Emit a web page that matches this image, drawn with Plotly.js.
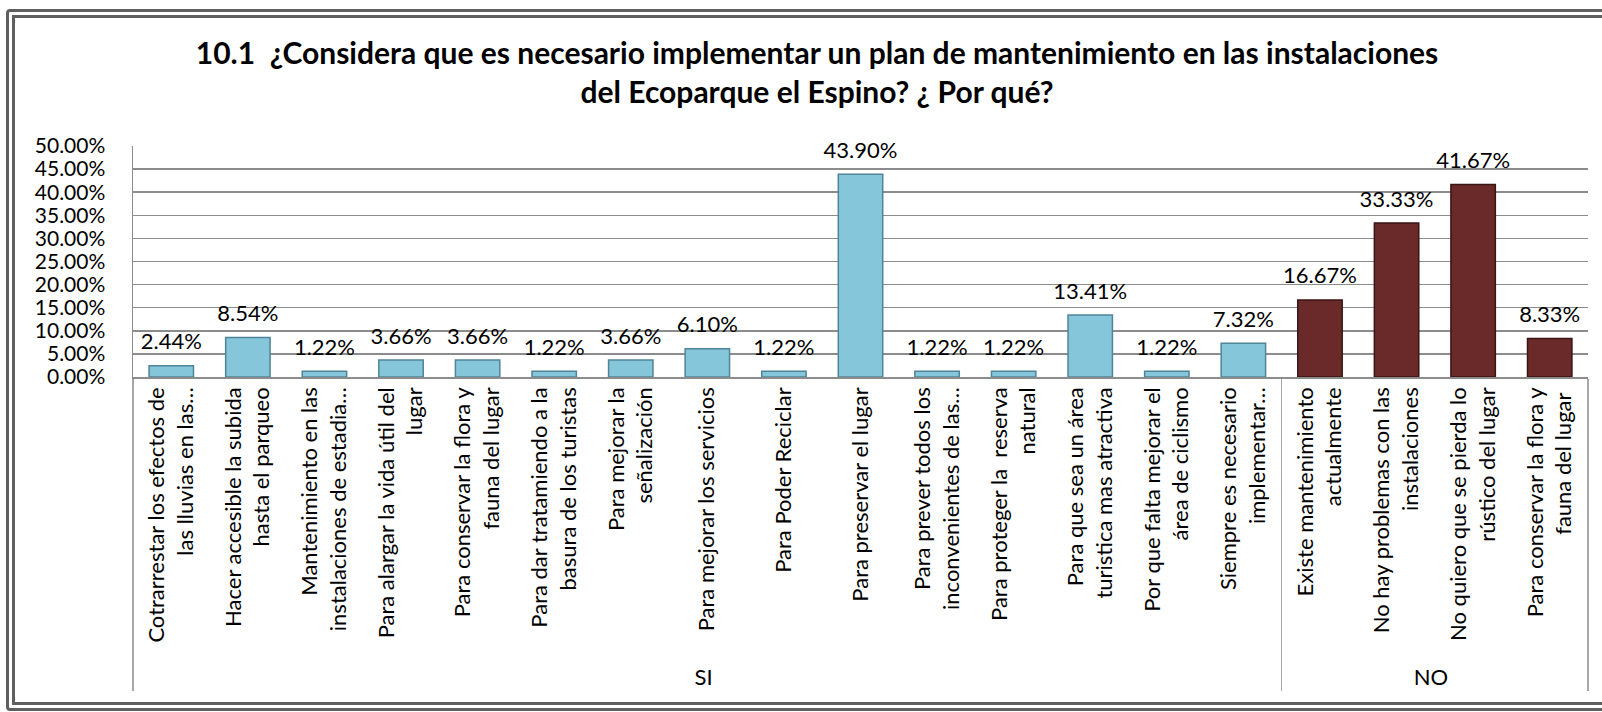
<!DOCTYPE html>
<html>
<head>
<meta charset="utf-8">
<script src="https://cdn.plot.ly/plotly-3.0.1.min.js"></script>
<style>
html,body{margin:0;padding:0;background:#fff;width:1602px;height:712px;overflow:hidden;position:relative;}
#frame{position:absolute;left:6px;top:9px;width:1700px;height:702px;box-sizing:border-box;border:9px double #5f5f5f;border-radius:4px;}
#chart{position:absolute;left:0;top:0;width:1602px;height:712px;}
</style>
</head>
<body>
<div id="frame"></div>
<div id="chart"></div>
<script>
const groups = ["SI","SI","SI","SI","SI","SI","SI","SI","SI","SI","SI","SI","SI","SI","SI","NO","NO","NO","NO"];
// (the last label ends with a space so the multicategory axis keeps it as its own category)
const categories = [
  "Cotrarrestar los efectos de<br>las lluvias en las…",
  "Hacer accesible la subida<br>hasta el parqueo",
  "Mantenimiento en las<br>instalaciones de estadia…",
  "Para alargar la vida útil del<br>lugar",
  "Para conservar la flora y<br>fauna del lugar",
  "Para dar tratamiendo a la<br>basura de los turistas",
  "Para mejorar la<br>señalización",
  "Para mejorar los servicios",
  "Para Poder Reciclar",
  "Para preservar el lugar",
  "Para prever todos los<br>inconvenientes de las…",
  "Para proteger la  reserva<br>natural",
  "Para que sea un área<br>turistica mas atractiva",
  "Por que falta mejorar el<br>área de ciclismo",
  "Siempre es necesario<br>implementar…",
  "Existe mantenimiento<br>actualmente",
  "No hay problemas con las<br>instalaciones",
  "No quiero que se pierda lo<br>rústico del lugar",
  "Para conservar la flora y<br>fauna del lugar "
];
const values = [2.44, 8.54, 1.22, 3.66, 3.66, 1.22, 3.66, 6.10, 1.22, 43.90, 1.22, 1.22, 13.41, 1.22, 7.32, 16.67, 33.33, 41.67, 8.33];
const yTickValues = [0,5,10,15,20,25,30,35,40,45,50];
const yTickText = yTickValues.map(v => v.toFixed(2) + "%");

const groupFill = {SI: "#86c6da", NO: "#6a2a2a"};
const groupLine = {SI: "#4f8499", NO: "#3b1414"};

const FONT = "Lato, 'Open Sans', sans-serif";

const bars = {
  type: "bar",
  x: [groups, categories],
  y: values,
  marker: {
    color: groups.map(g => groupFill[g]),
    line: {color: groups.map(g => groupLine[g]), width: 1.5}
  },
  hoverinfo: "skip",
  showlegend: false
};

const labels = {
  type: "scatter",
  mode: "markers+text",
  x: [groups, categories],
  y: values,
  text: values.map(v => v.toFixed(2) + "%"),
  textposition: "top center",
  textfont: {family: FONT, size: 22, color: "#000"},
  marker: {size: 16, opacity: 0},
  cliponaxis: false,
  hoverinfo: "skip",
  showlegend: false
};

const layout = {
  width: 1602,
  height: 712,
  paper_bgcolor: "rgba(0,0,0,0)",
  plot_bgcolor: "#fff",
  margin: {l: 133, r: 14, t: 146, b: 335},
  bargap: 0.42,
  title: {
    text: "<b>10.1  ¿Considera que es necesario implementar un plan de mantenimiento en las instalaciones<br>del Ecoparque el Espino? ¿ Por qué?</b>",
    font: {family: FONT, size: 30, color: "#000"},
    x: 0.51, xref: "container", xanchor: "center",
    y: 0.91, yref: "container", yanchor: "top"
  },
  xaxis: {
    type: "multicategory",
    range: [-0.5, 18.5],
    tickangle: -90,
    tickfont: {family: FONT, size: 22, color: "#000"},
    showline: true,
    linecolor: "#8c8c8c",
    linewidth: 1.5,
    ticks: "",
    showgrid: false,
    showdividers: true,
    dividercolor: "#a6a6a6",
    dividerwidth: 1.5,
    automargin: false
  },
  yaxis: {
    range: [0, 50],
    tickvals: yTickValues,
    ticktext: yTickText,
    tickfont: {family: FONT, size: 21, color: "#000"},
    ticklabelstandoff: 22,
    showgrid: true,
    gridcolor: "#8c8c8c",
    gridwidth: 1.5,
    showline: true,
    linecolor: "#8c8c8c",
    linewidth: 1.5,
    zeroline: false,
    ticks: "",
    automargin: false
  }
};

Plotly.newPlot("chart", [bars, labels], layout, {displayModeBar: false, staticPlot: true});
</script>
</body>
</html>
